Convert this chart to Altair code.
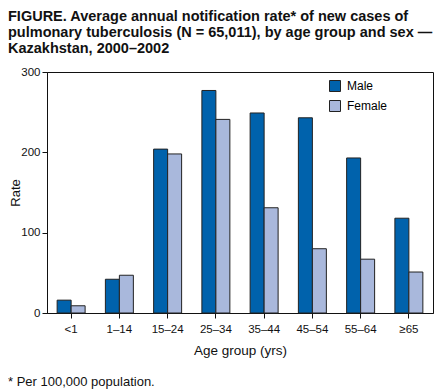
import altair as alt
import pandas as pd

ages = ["<1", "1–14", "15–24", "25–34", "35–44", "45–54", "55–64", "≥65"]
male = [16, 42, 204, 277, 249, 243, 193, 118]
female = [9, 47, 198, 241, 131, 80, 67, 51]
sexes = ["Male", "Female"]
colors = ["#0062AC", "#A9B8DC"]

rows = []
for a, m, f in zip(ages, male, female):
    rows.append({"age": a, "sex": "Male", "rate": m})
    rows.append({"age": a, "sex": "Female", "rate": f})
df = pd.DataFrame(rows)

FONT = "Liberation Sans"

bars = alt.Chart(df).mark_bar(stroke="#222222", strokeWidth=1).encode(
    x=alt.X("age:N", sort=ages, title="Age group (yrs)",
            scale=alt.Scale(paddingInner=0.42, paddingOuter=0.21),
            axis=alt.Axis(labelAngle=0, tickSize=5, labelPadding=5, titlePadding=9,
                          titleFontSize=13.5)),
    xOffset=alt.XOffset("sex:N", sort=sexes),
    y=alt.Y("rate:Q", title="Rate", scale=alt.Scale(domain=[0, 300]),
            axis=alt.Axis(values=[0, 100, 200, 300], grid=False, tickSize=5,
                          labelPadding=2, titlePadding=-2, titleFontSize=13)),
    color=alt.Color("sex:N", sort=sexes, scale=alt.Scale(domain=sexes, range=colors),
                    legend=alt.Legend(title=None, orient="none", legendX=282, legendY=8,
                                      symbolType="square", symbolSize=121,
                                      symbolStrokeColor="#222222", symbolStrokeWidth=1,
                                      labelFontSize=12, labelFont=FONT, rowPadding=4,
                                      labelOffset=6)),
)

foot = alt.Chart(pd.DataFrame({"t": ["* Per 100,000 population."]})).mark_text(
    align="left", baseline="alphabetic", fontSize=13, font=FONT, color="#111111"
).encode(x=alt.value(-39), y=alt.value(314), text="t:N")

chart = alt.layer(bars, foot).properties(
    width=386, height=241,
    autosize=alt.AutoSizeParams(type="none"),
    padding={"left": 39, "top": 64, "right": 1, "bottom": 78},
    title=alt.TitleParams(
        ["FIGURE. Average annual notification rate* of new cases of",
         "pulmonary tuberculosis (N = 65,011), by age group and sex —",
         "Kazakhstan, 2000–2002"],
        anchor="start", frame="group", dx=-39, offset=10, font=FONT,
        fontSize=14.5, fontWeight="bold", lineHeight=16, color="#111111",
    ),
).configure_view(stroke="#111111", strokeWidth=1).configure_axis(
    domainColor="#111111", tickColor="#111111", labelColor="#111111",
    titleColor="#111111", labelFont=FONT, titleFont=FONT,
    labelFontSize=11.5, titleFontWeight="normal",
)

chart.save("out.html", embed_options={"renderer": "svg", "actions": False})
